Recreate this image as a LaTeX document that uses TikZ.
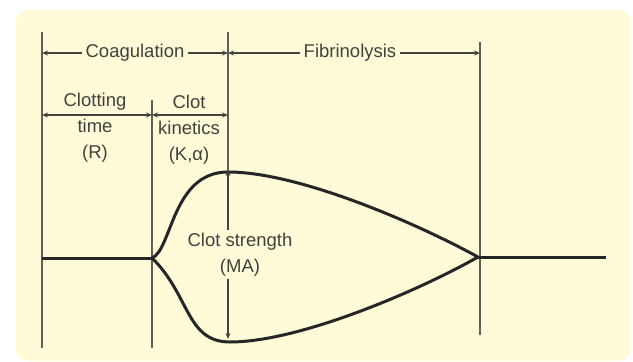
\documentclass[tikz,border=0pt]{standalone}
\usepackage{fontspec}
\setmainfont{Liberation Sans}
\usetikzlibrary{arrows.meta}
\definecolor{cream}{RGB}{255,250,216}
\definecolor{ink}{RGB}{66,66,60}
\definecolor{rule}{RGB}{96,96,86}
\begin{document}
\begin{tikzpicture}[
  x=1pt, y=-1pt,
  font=\fontsize{18.5}{26}\selectfont,
  lbl/.style={text=ink, align=center, inner sep=4pt},
  guide/.style={rule, line width=1.8pt},
  dim/.style={{Stealth[length=6pt,width=5pt]}-{Stealth[length=6pt,width=5pt]}, ink, line width=1.4pt},
  trace/.style={black!85, line width=3pt, line join=round},
]
\useasboundingbox (0,0) rectangle (633,362);
\fill[cream, rounded corners=12pt] (16,10) rectangle (631,361);
% guide lines
\coordinate (v1t) at (42,32);   \coordinate (v1b) at (42,348);
\coordinate (v2t) at (152,100); \coordinate (v2b) at (152,348);
\coordinate (v3t) at (228,32);  \coordinate (v3b) at (228,172);
\coordinate (v4t) at (480,42);  \coordinate (v4b) at (480,335);
\draw[guide] (v1t) -- (v1b);
\draw[guide] (v2t) -- (v2b);
\draw[guide] (v3t) -- (v3b);
\draw[guide] (v4t) -- (v4b);
% phases (top row)
\draw[dim] (v1t |- 0,53) -- node[lbl, fill=cream] (coag) {Coagulation} (v3t |- 0,53);
\draw[dim] (v3t |- 0,53) -- node[lbl, fill=cream, xshift=-4pt] (fibr) {Fibrinolysis} (v4t |- 0,53);
% R and K
\draw[dim] (v1t |- 0,115) -- (v2t |- 0,115);
\draw[dim] (v2t |- 0,115) -- (v3t |- 0,115);
\node[lbl] (rtime) at (95,128) {Clotting\\time\\(R)};
\node[lbl] (kin) at (189,130) {Clot\\kinetics\\(K,α)};
% trace
\coordinate (split) at (152,258);
\coordinate (join) at (478,257);
\coordinate (peak) at (228,172);
\coordinate (low) at (230,342);
\coordinate (tail) at (606,257);
\draw[trace] (v1b |- split) -- (split);
\draw[trace] (split) .. controls (172,250) and (172,172) .. (peak)
  .. controls (300,172) and (420,225) .. (join);
\draw[trace] (split) .. controls (190,295) and (186,342) .. (low)
  .. controls (300,342) and (420,290) .. (join);
\draw[trace] (join) -- (tail);
% MA
\draw[dim] ([yshift=2pt]peak) -- node[lbl, fill=cream, xshift=12pt, inner sep=3pt] (ma) {Clot strength\\(MA)} (228,339);
\end{tikzpicture}
\end{document}
